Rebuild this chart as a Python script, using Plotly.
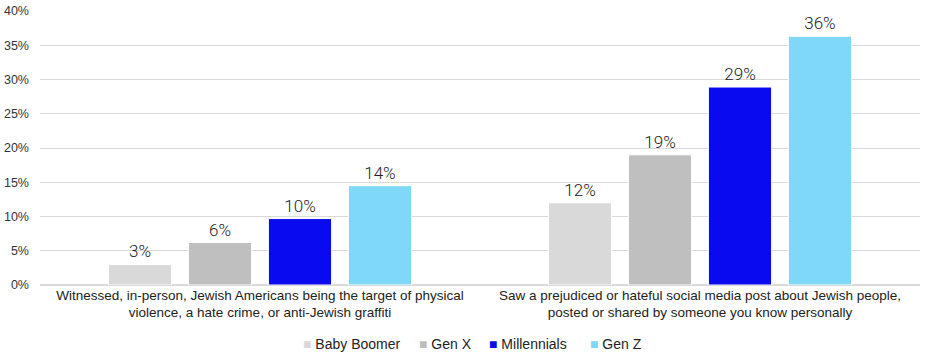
import plotly.graph_objects as go

categories = [
    "Witnessed, in-person, Jewish Americans being the target of physical<br>violence, a hate crime, or anti-Jewish graffiti",
    "Saw a prejudiced or hateful social media post about Jewish people,<br>posted or shared by someone you know personally",
]
series_names = ["Baby Boomer", "Gen X", "Millennials", "Gen Z"]
baby_boomer = [3.0, 12.0]
gen_x = [6.2, 19.0]
millennials = [9.7, 28.9]
gen_z = [14.5, 36.3]
baby_boomer_labels = ["3%", "12%"]
gen_x_labels = ["6%", "19%"]
millennials_labels = ["10%", "29%"]
gen_z_labels = ["14%", "36%"]
y_ticks = [0, 5, 10, 15, 20, 25, 30, 35, 40]
y_tick_labels = ["0%", "5%", "10%", "15%", "20%", "25%", "30%", "35%", "40%"]

colors = ["#d9d9d9", "#bfbfbf", "#0a0af0", "#80d8f8"]
values = [baby_boomer, gen_x, millennials, gen_z]
labels = [baby_boomer_labels, gen_x_labels, millennials_labels, gen_z_labels]

fig = go.Figure()
for name, vals, txt, col in zip(series_names, values, labels, colors):
    fig.add_trace(go.Bar(
        name=name, x=categories, y=vals, text=txt,
        textposition="outside", cliponaxis=False,
        textfont=dict(family="Roboto, Liberation Sans", size=17, color="#222222", weight=300),
        marker=dict(color=col, line=dict(color="white", width=1)),
        showlegend=False,
    ))

# legend drawn as text entries below the plot
plot_left, plot_w = 40, 880
legend_px = [301, 417, 487, 588]
for name, col, px in zip(series_names, colors, legend_px):
    fig.add_annotation(
        x=(px - plot_left) / plot_w, xref="paper", xanchor="left",
        y=-0.215, yref="paper", yanchor="middle", showarrow=False,
        text=f"<span style='color:{col}'>■</span> {name}",
        font=dict(size=14, family="Liberation Sans, Arial", color="#222222"),
    )

fig.update_layout(
    width=936, height=358,
    margin=dict(l=40, r=16, t=11, b=73),
    paper_bgcolor="white", plot_bgcolor="white",
    barmode="group", bargap=0.273, bargroupgap=0.21,
    font=dict(family="Liberation Sans, Arial", size=12, color="#222222"),
    showlegend=False,
)
fig.update_yaxes(range=[0, 40], tickvals=y_ticks, ticktext=y_tick_labels,
                 showgrid=True, gridcolor="#d9d9d9", gridwidth=1, zeroline=True,
                 zerolinecolor="#d9d9d9", showline=False, automargin=False,
                 tickfont=dict(size=12.5, family="Liberation Sans, Arial", color="#333333"),
                 ticklabelstandoff=10)
fig.update_xaxes(showline=False, automargin=False,
                 tickfont=dict(size=13.5, family="Liberation Sans, Arial", color="#222222"))

fig.write_html("out.html", config={"displayModeBar": False},
               post_script="document.documentElement.style.margin='0';document.body.style.margin='0';document.body.style.padding='0';")
